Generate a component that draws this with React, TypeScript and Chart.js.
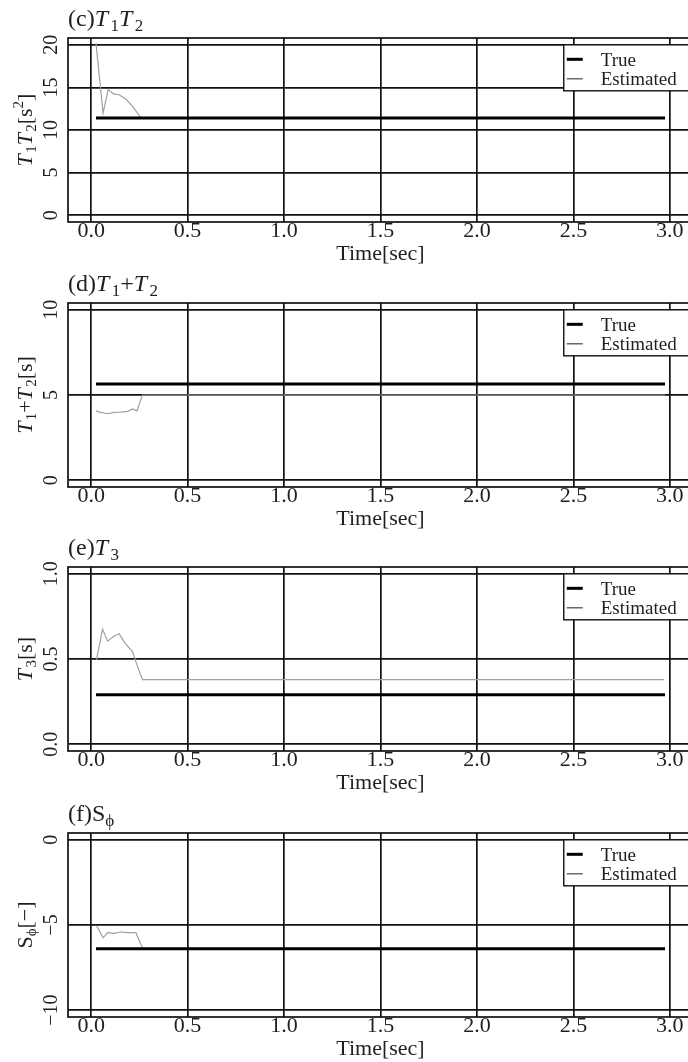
import React, { useEffect, useRef } from "react";
import { Chart, registerables } from "chart.js";

Chart.register(...registerables);

const FONT = '"Liberation Serif", "Times New Roman", serif';
const INK = "#1e1e24";

// ---- shared x axis ----
const xTicks = [0, 0.5, 1.0, 1.5, 2.0, 2.5, 3.0];
const xTickLabels = ["0.0", "0.5", "1.0", "1.5", "2.0", "2.5", "3.0"];
const xTitle = "Time[sec]";
const legendLabels = ["True", "Estimated"];

// ---- true-value time span ----
const trueTime = [0.025, 2.975];

// ---- (c) T1T2 ----
const cTrue = [11.42, 11.42];
const cEstTime = [0.025, 0.062, 0.088, 0.116, 0.145, 0.18, 0.215, 0.253, 0.27, 2.975];
const cEst = [20.2, 11.97, 14.74, 14.23, 14.14, 13.63, 12.77, 11.58, 11.42, 11.42];
const cYTicks = [0, 5, 10, 15, 20];
const cYTickLabels = ["0", "5", "10", "15", "20"];

// ---- (d) T1+T2 ----
const dTrue = [5.65, 5.65];
const dEstTime = [0.024, 0.05, 0.085, 0.12, 0.154, 0.189, 0.215, 0.237, 0.266, 2.975];
const dEst = [4.07, 3.98, 3.9, 3.98, 4.0, 4.04, 4.18, 4.07, 5.0, 5.0];
const dYTicks = [0, 5, 10];
const dYTickLabels = ["0", "5", "10"];

// ---- (e) T3 ----
const eTrue = [0.29, 0.29];
const eEstTime = [0.028, 0.059, 0.085, 0.12, 0.145, 0.176, 0.215, 0.235, 0.266, 2.97];
const eEst = [0.497, 0.676, 0.605, 0.635, 0.648, 0.592, 0.542, 0.473, 0.379, 0.379];
const eYTicks = [0.0, 0.5, 1.0];
const eYTickLabels = ["0.0", "0.5", "1.0"];

// ---- (f) S_phi ----
const fTrue = [-6.4, -6.4];
const fEstTime = [0.028, 0.062, 0.085, 0.12, 0.154, 0.189, 0.232, 0.266, 2.975];
const fEst = [-5.04, -5.75, -5.45, -5.49, -5.41, -5.45, -5.45, -6.35, -6.4];
const fYTicks = [-10, -5, 0];
const fYTickLabels = ["\u221210", "\u22125", "0"];

type Seg = { t: string; it?: boolean; sub?: boolean; sup?: boolean };

const titles: Seg[][] = [
  [{ t: "(c)" }, { t: "T", it: true }, { t: "1", sub: true }, { t: "T", it: true }, { t: "2", sub: true }],
  [{ t: "(d)" }, { t: "T", it: true }, { t: "1", sub: true }, { t: "+" }, { t: "T", it: true }, { t: "2", sub: true }],
  [{ t: "(e)" }, { t: "T", it: true }, { t: "3", sub: true }],
  [{ t: "(f)S" }, { t: "\u03d5", sub: true }],
];

const yTitles: Seg[][] = [
  [{ t: "T", it: true }, { t: "1", sub: true }, { t: "T", it: true }, { t: "2", sub: true }, { t: "[s" }, { t: "2", sup: true }, { t: "]" }],
  [{ t: "T", it: true }, { t: "1", sub: true }, { t: "+" }, { t: "T", it: true }, { t: "2", sub: true }, { t: "[s]" }],
  [{ t: "T", it: true }, { t: "3", sub: true }, { t: "[s]" }],
  [{ t: "S" }, { t: "\u03d5", sub: true }, { t: "[\u2212]" }],
];

type PanelCfg = {
  top: number;
  estTime: number[];
  est: number[];
  trueVals: number[];
  yMin: number;
  yMax: number;
  yTicks: number[];
  yTickLabels: string[];
  title: Seg[];
  yTitle: Seg[];
};

const panels: PanelCfg[] = [
  { top: 0, estTime: cEstTime, est: cEst, trueVals: cTrue, yMin: -0.8, yMax: 20.8, yTicks: cYTicks, yTickLabels: cYTickLabels, title: titles[0], yTitle: yTitles[0] },
  { top: 265, estTime: dEstTime, est: dEst, trueVals: dTrue, yMin: -0.4, yMax: 10.4, yTicks: dYTicks, yTickLabels: dYTickLabels, title: titles[1], yTitle: yTitles[1] },
  { top: 529, estTime: eEstTime, est: eEst, trueVals: eTrue, yMin: -0.04, yMax: 1.04, yTicks: eYTicks, yTickLabels: eYTickLabels, title: titles[2], yTitle: yTitles[2] },
  { top: 795, estTime: fEstTime, est: fEst, trueVals: fTrue, yMin: -10.4, yMax: 0.4, yTicks: fYTicks, yTickLabels: fYTickLabels, title: titles[3], yTitle: yTitles[3] },
];

const CANVAS_W = 720;
const CANVAS_H = 265;

function segFont(s: Seg, size: number) {
  const sz = s.sub || s.sup ? Math.round(size * 0.7) : size;
  return `${s.it ? "italic " : ""}${sz}px ${FONT}`;
}

function drawRich(ctx: CanvasRenderingContext2D, segs: Seg[], x: number, y: number, size: number, center: boolean, itGap: number) {
  let total = 0;
  const widths: number[] = [];
  for (const s of segs) {
    ctx.font = segFont(s, size);
    const w = ctx.measureText(s.t).width + (s.it ? size * itGap : 0);
    widths.push(w);
    total += w;
  }
  let cx = center ? x - total / 2 : x;
  ctx.textAlign = "left";
  ctx.textBaseline = "alphabetic";
  segs.forEach((s, i) => {
    ctx.font = segFont(s, size);
    const dy = s.sub ? size * 0.2 : s.sup ? -size * 0.4 : 0;
    ctx.fillText(s.t, cx, y + dy);
    cx += widths[i];
  });
}

function Panel({ cfg }: { cfg: PanelCfg }) {
  const ref = useRef<HTMLCanvasElement | null>(null);
  useEffect(() => {
    const canvas = ref.current;
    if (!canvas) return;
    const decor = {
      id: "decor",
      afterDraw(chart: any) {
        const ctx: CanvasRenderingContext2D = chart.ctx;
        const a = chart.chartArea;
        const xs = chart.scales.x;
        const ys = chart.scales.y;
        ctx.save();
        // plot box
        ctx.strokeStyle = "#111";
        ctx.lineWidth = 1.7;
        ctx.strokeRect(a.left, a.top, a.right - a.left, a.bottom - a.top);
        ctx.fillStyle = INK;
        // panel title
        drawRich(ctx, cfg.title, a.left, 26, 24, false, 0.1);
        // y tick labels (rotated, R style)
        ctx.font = `20px ${FONT}`;
        cfg.yTicks.forEach((v, i) => {
          const py = ys.getPixelForValue(v);
          ctx.save();
          ctx.translate(57, py);
          ctx.rotate(-Math.PI / 2);
          ctx.textAlign = "center";
          ctx.textBaseline = "alphabetic";
          ctx.fillText(cfg.yTickLabels[i], 0, 0);
          ctx.restore();
        });
        // y title
        ctx.save();
        ctx.translate(31.5, (a.top + a.bottom) / 2);
        ctx.rotate(-Math.PI / 2);
        drawRich(ctx, cfg.yTitle, 0, 0, 22, true, 0.06);
        ctx.restore();
        // legend
        const lx = xs.getPixelForValue(2.45);
        const ly = ys.getPixelForValue(cfg.yTicks[cfg.yTicks.length - 1]);
        ctx.fillStyle = "#fff";
        ctx.fillRect(lx, ly, 150, 46);
        ctx.strokeStyle = "#111";
        ctx.lineWidth = 1.4;
        ctx.strokeRect(lx, ly, 150, 46);
        ctx.strokeStyle = "#000";
        ctx.lineWidth = 3;
        ctx.beginPath();
        ctx.moveTo(lx + 3, ly + 14.5);
        ctx.lineTo(lx + 19, ly + 14.5);
        ctx.stroke();
        ctx.strokeStyle = "#444";
        ctx.lineWidth = 1.2;
        ctx.beginPath();
        ctx.moveTo(lx + 3, ly + 34);
        ctx.lineTo(lx + 19, ly + 34);
        ctx.stroke();
        ctx.fillStyle = INK;
        ctx.font = `19px ${FONT}`;
        ctx.textAlign = "left";
        ctx.textBaseline = "alphabetic";
        ctx.fillText(legendLabels[0], lx + 37, ly + 21);
        ctx.fillText(legendLabels[1], lx + 37, ly + 40.5);
        ctx.restore();
      },
    };
    const chart = new Chart(canvas, {
      type: "line",
      data: {
        datasets: [
          {
            label: legendLabels[0],
            data: trueTime.map((t, i) => ({ x: t, y: cfg.trueVals[i] })),
            borderColor: "#000",
            borderWidth: 3,
            pointRadius: 0,
            tension: 0,
          },
          {
            label: legendLabels[1],
            data: cfg.estTime.map((t, i) => ({ x: t, y: cfg.est[i] })),
            borderColor: "#a0a0a0",
            borderWidth: 1.2,
            pointRadius: 0,
            tension: 0,
          },
        ],
      },
      options: {
        animation: false,
        responsive: false,
        maintainAspectRatio: false,
        devicePixelRatio: 1,
        layout: { padding: { top: 38, right: 27, left: 0, bottom: 0 } },
        plugins: { legend: { display: false }, tooltip: { enabled: false }, title: { display: false } },
        scales: {
          x: {
            type: "linear",
            min: -0.12,
            max: 3.12,
            z: 1,
            afterBuildTicks: (s: any) => {
              s.ticks = xTicks.map((v) => ({ value: v }));
            },
            afterFit: (s: any) => {
              s.height = 43;
            },
            ticks: {
              autoSkip: false,
              maxRotation: 0,
              minRotation: 0,
              padding: -2,
              color: INK,
              font: { family: FONT, size: 22, lineHeight: 1 },
              callback: (v: any) => {
                const i = xTicks.indexOf(Number(v));
                return i >= 0 ? xTickLabels[i] : "";
              },
            },
            grid: { color: "#111", lineWidth: 1.7, drawTicks: false },
            border: { display: false },
            title: {
              display: true,
              text: xTitle,
              color: INK,
              font: { family: FONT, size: 22, lineHeight: 1 },
              padding: { top: 0, bottom: 0 },
            },
          },
          y: {
            type: "linear",
            min: cfg.yMin,
            max: cfg.yMax,
            z: 1,
            afterBuildTicks: (s: any) => {
              s.ticks = cfg.yTicks.map((v) => ({ value: v }));
            },
            afterFit: (s: any) => {
              s.width = 68;
            },
            ticks: { display: false },
            grid: { color: "#111", lineWidth: 1.7, drawTicks: false },
            border: { display: false },
          },
        },
      },
      plugins: [decor],
    } as any);
    return () => chart.destroy();
  }, [cfg]);
  return (
    <canvas
      ref={ref}
      width={CANVAS_W}
      height={CANVAS_H}
      style={{ position: "absolute", left: 0, top: cfg.top, width: CANVAS_W, height: CANVAS_H }}
    />
  );
}

export default function App() {
  return (
    <div
      style={{
        position: "fixed",
        left: 0,
        top: 0,
        width: 688,
        height: 1062,
        overflow: "hidden",
        background: "#fff",
      }}
    >
      {panels.map((p, i) => (
        <Panel key={i} cfg={p} />
      ))}
    </div>
  );
}
